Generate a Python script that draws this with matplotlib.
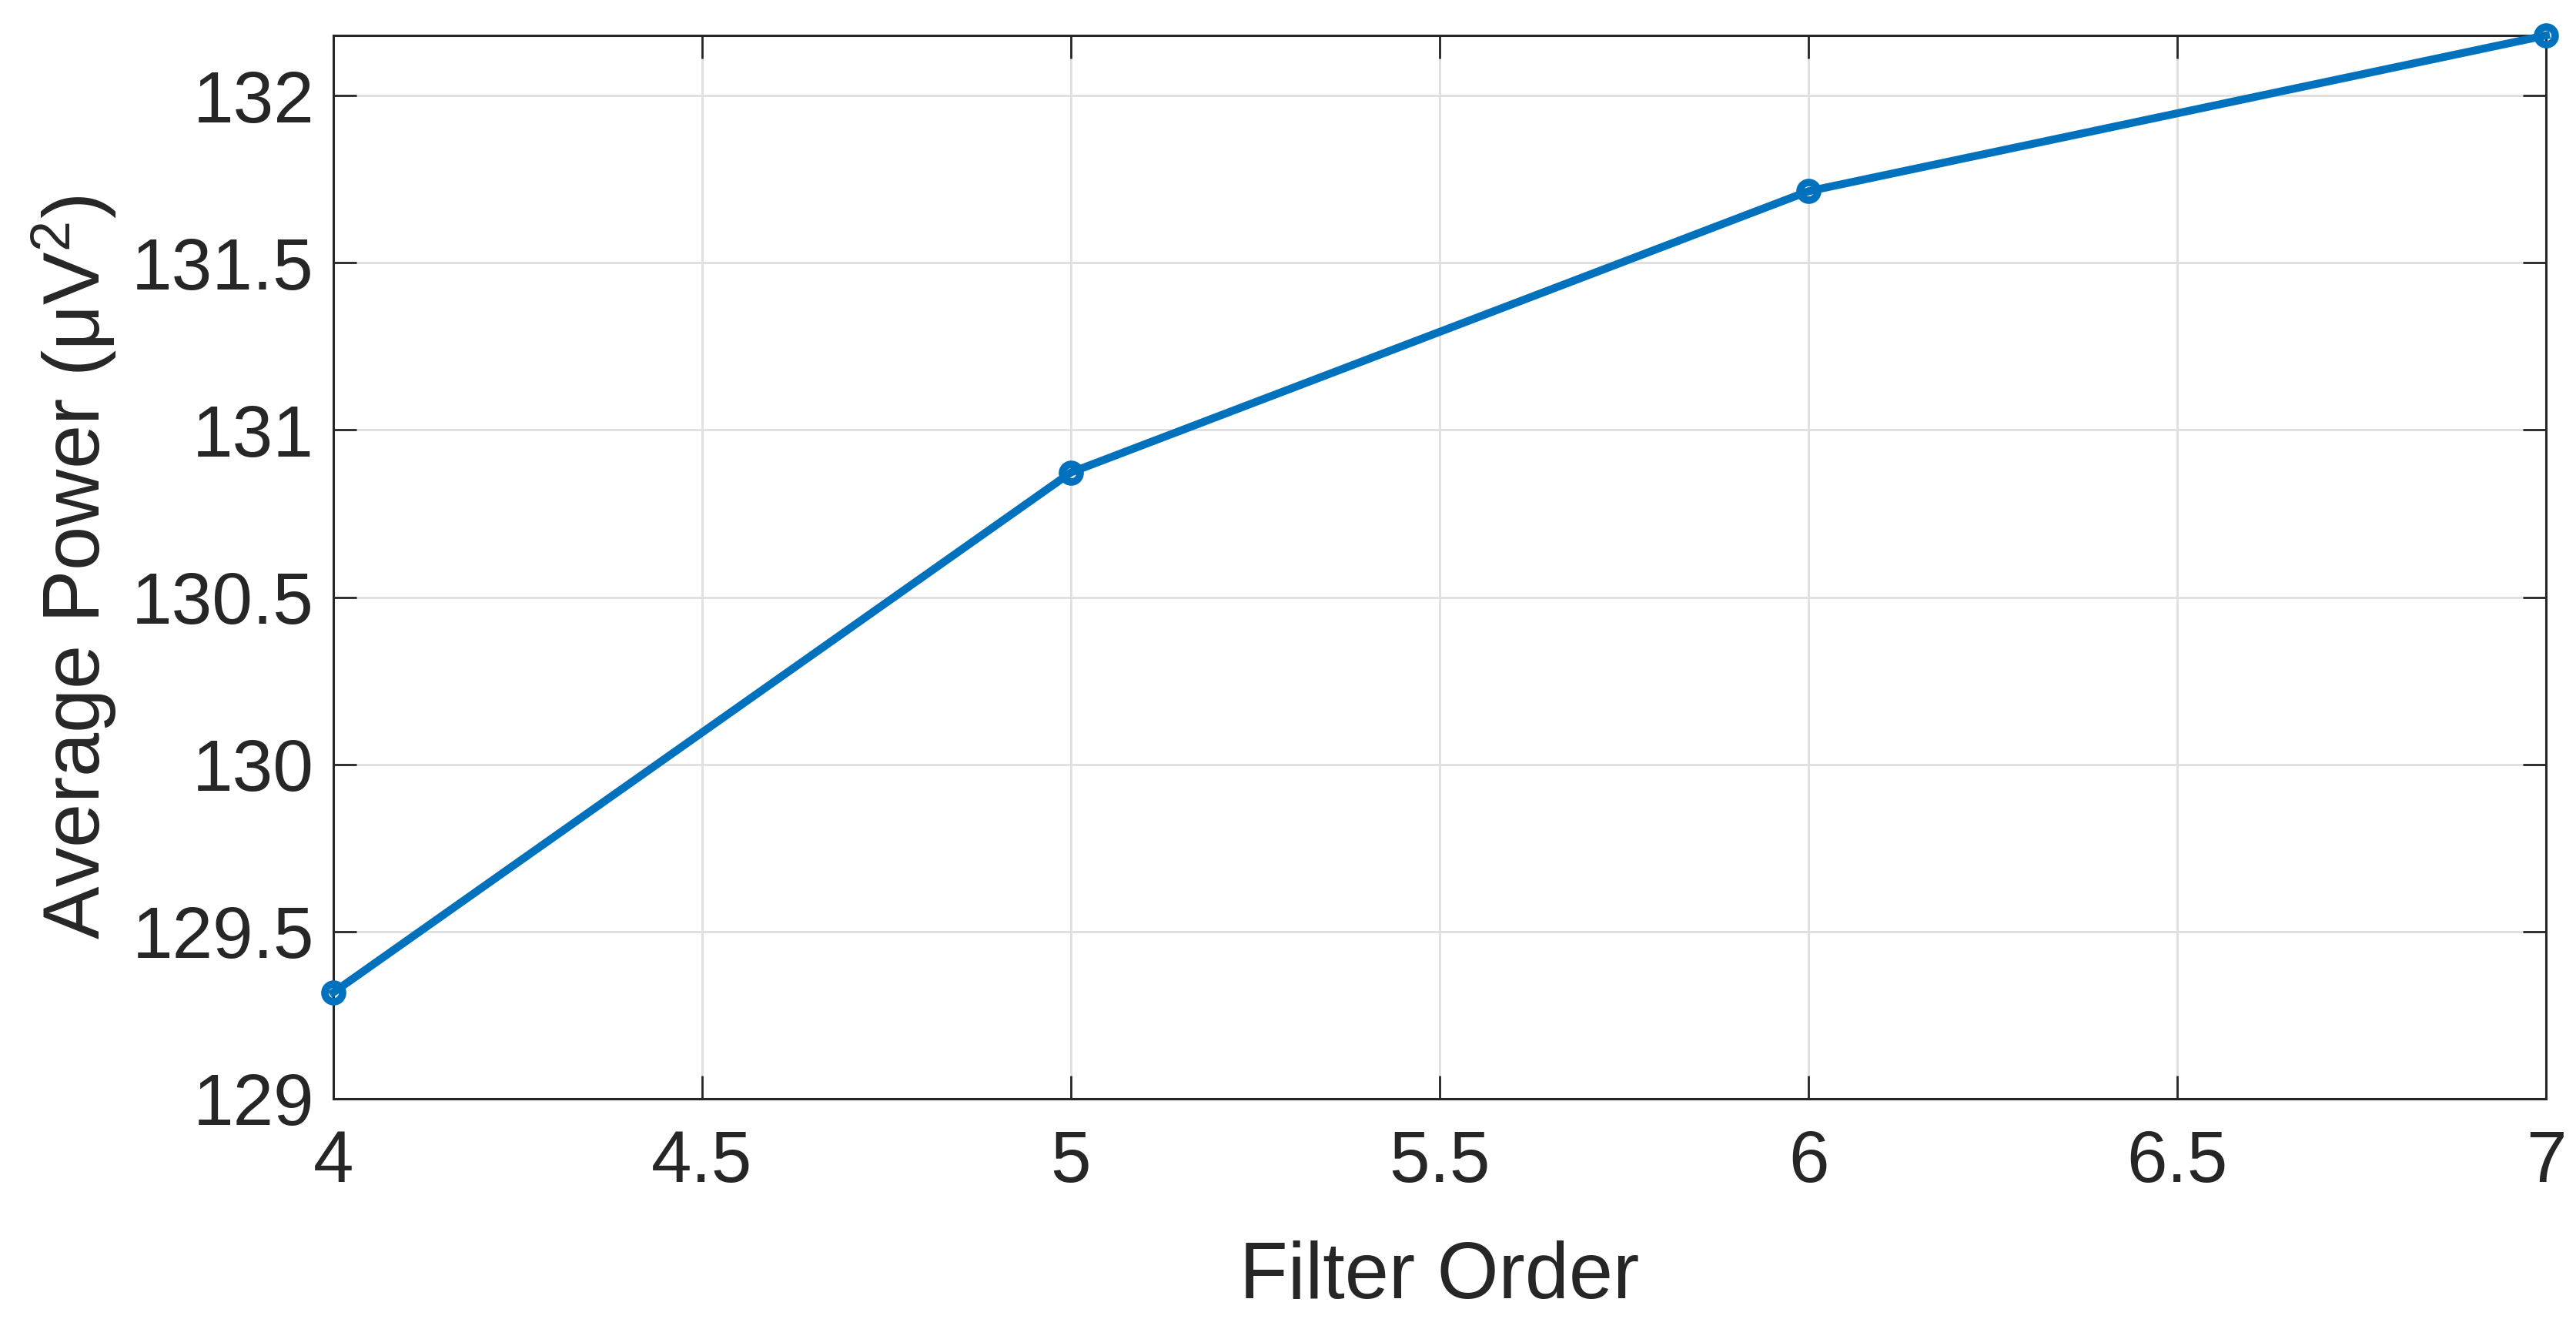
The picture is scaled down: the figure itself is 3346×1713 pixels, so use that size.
import matplotlib
matplotlib.use("Agg")
import matplotlib.pyplot as plt

# Data
filter_order = [4, 5, 6, 7]
avg_power = [129.318, 130.873, 131.714, 132.180]
x_ticks = [4, 4.5, 5, 5.5, 6, 6.5, 7]
x_ticklabels = ["4", "4.5", "5", "5.5", "6", "6.5", "7"]
y_ticks = [129, 129.5, 130, 130.5, 131, 131.5, 132]
y_ticklabels = ["129", "129.5", "130", "130.5", "131", "131.5", "132"]

plt.rcParams['font.family'] = ['Liberation Sans', 'DejaVu Sans']
plt.rcParams['mathtext.fontset'] = 'custom'
plt.rcParams['mathtext.rm'] = 'Liberation Sans'
plt.rcParams['mathtext.default'] = 'regular'

TXT = '#262626'
DPI = 100
fig = plt.figure(figsize=(3346 / DPI, 1713 / DPI), dpi=DPI)
ax = fig.add_axes([433 / 3346, 1 - 1427 / 1713, (3307 - 433) / 3346, (1427 - 46) / 1713])

ax.plot(filter_order, avg_power, color='#0072BD', linewidth=7.4,
        marker='o', markersize=16.5, markeredgewidth=7.0,
        markerfacecolor='none', markeredgecolor='#0072BD', zorder=3, clip_on=False)

ax.set_xlim(4, 7)
ax.set_ylim(129, 132.18)
ax.set_xticks(x_ticks)
ax.set_xticklabels(x_ticklabels)
ax.set_yticks(y_ticks)
ax.set_yticklabels(y_ticklabels)

ax.grid(True, color='#dfdfdf', linewidth=2.0)
ax.set_axisbelow(True)
ax.tick_params(direction='in', length=21.5, width=2.0, colors=TXT,
               labelsize=68, top=True, right=True, pad=18)
ax.tick_params(axis='x', pad=28)
for s in ax.spines.values():
    s.set_linewidth(2.2)
    s.set_color(TXT)

ax.set_xlabel('Filter Order', fontsize=74, color=TXT)
ax.set_ylabel('Average Power (μV$^{2}$)', fontsize=74, color=TXT)
ax.xaxis.set_label_coords(0.5, -0.133)
ax.yaxis.set_label_coords(-0.097, 0.5)

fig.savefig('out.png', dpi=DPI, facecolor='white')
